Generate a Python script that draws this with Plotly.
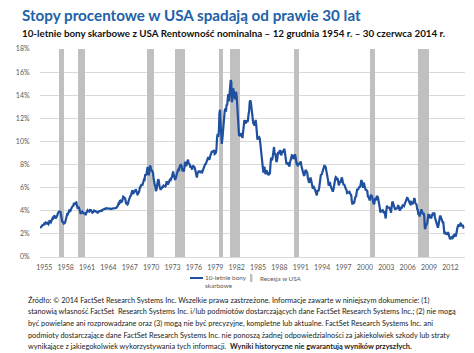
import plotly.graph_objects as go

# ---------------- data ----------------
# Monthly 10-year US Treasury yield (%), starting December 1954
yields_1950s = [2.51,
    2.61, 2.65, 2.68, 2.75, 2.76, 2.78, 2.90, 2.97, 2.97, 2.88, 2.89, 2.96,
    2.90, 2.84, 2.96, 3.18, 3.07, 3.00, 3.11, 3.33, 3.38, 3.34, 3.49, 3.59,
    3.46, 3.34, 3.41, 3.48, 3.60, 3.80, 3.93, 3.93, 3.92, 3.97, 3.72, 3.21,
    3.09, 3.05, 2.98, 2.88, 2.92, 2.97, 3.20, 3.54, 3.76, 3.80, 3.74, 3.86,
    4.02, 3.96, 3.99, 4.12, 4.31, 4.34, 4.40, 4.43, 4.68, 4.53, 4.53, 4.69]
yields_1960s = [
    4.72, 4.49, 4.25, 4.28, 4.35, 4.15, 3.90, 3.80, 3.80, 3.89, 3.93, 3.84,
    3.84, 3.78, 3.74, 3.78, 3.71, 3.88, 3.92, 4.04, 3.98, 3.92, 3.94, 4.06,
    4.08, 4.04, 3.93, 3.84, 3.87, 3.91, 4.01, 3.98, 3.98, 3.93, 3.92, 3.86,
    3.83, 3.92, 3.93, 3.97, 3.93, 3.99, 4.02, 4.00, 4.08, 4.11, 4.12, 4.13,
    4.17, 4.15, 4.22, 4.23, 4.20, 4.17, 4.19, 4.19, 4.20, 4.19, 4.15, 4.18,
    4.19, 4.21, 4.21, 4.20, 4.21, 4.21, 4.20, 4.25, 4.29, 4.35, 4.45, 4.62,
    4.61, 4.83, 4.87, 4.75, 4.78, 4.81, 5.02, 5.22, 5.18, 5.01, 5.16, 4.84,
    4.58, 4.63, 4.54, 4.59, 4.85, 5.02, 5.16, 5.28, 5.30, 5.48, 5.75, 5.70,
    5.53, 5.56, 5.74, 5.64, 5.87, 5.72, 5.50, 5.42, 5.46, 5.58, 5.70, 6.03,
    6.04, 6.19, 6.30, 6.17, 6.32, 6.57, 6.72, 6.69, 7.16, 7.10, 7.14, 7.65]
yields_1970s = [
    7.79, 7.24, 7.07, 7.39, 7.91, 7.84, 7.46, 7.53, 7.39, 7.33, 6.84, 6.39,
    6.24, 6.11, 5.70, 5.83, 6.39, 6.52, 6.73, 6.58, 6.14, 5.93, 5.81, 5.93,
    5.95, 6.08, 6.07, 6.19, 6.13, 6.11, 6.11, 6.21, 6.55, 6.48, 6.28, 6.36,
    6.46, 6.64, 6.71, 6.67, 6.85, 6.90, 7.13, 7.40, 7.09, 6.79, 6.73, 6.74,
    6.99, 6.96, 7.21, 7.51, 7.58, 7.54, 7.81, 8.04, 8.04, 7.90, 7.68, 7.43,
    7.50, 7.39, 7.73, 8.23, 8.06, 7.86, 8.06, 8.40, 8.43, 8.14, 8.05, 8.00,
    7.74, 7.79, 7.73, 7.56, 7.90, 7.86, 7.83, 7.77, 7.59, 7.41, 7.29, 6.87,
    7.21, 7.39, 7.46, 7.37, 7.46, 7.28, 7.33, 7.40, 7.34, 7.52, 7.58, 7.69,
    7.96, 8.03, 8.04, 8.15, 8.35, 8.46, 8.64, 8.41, 8.42, 8.64, 8.81, 9.01,
    9.10, 9.10, 9.12, 9.18, 9.25, 8.91, 8.95, 9.03, 9.33, 10.30, 10.65, 10.39]
yields_1980s = [
    10.80, 12.41, 12.75, 11.47, 10.18, 9.78, 10.25, 11.10, 11.51, 11.75, 12.68, 12.84,
    12.57, 13.19, 13.12, 13.68, 14.10, 13.47, 14.28, 14.94, 15.32, 15.15, 13.39, 13.72,
    14.59, 14.43, 13.86, 13.87, 13.62, 14.30, 13.95, 13.06, 12.34, 10.91, 10.55, 10.54,
    10.46, 10.72, 10.51, 10.40, 10.38, 10.85, 11.38, 11.85, 11.65, 11.54, 11.69, 11.83,
    11.67, 11.84, 12.32, 12.63, 13.41, 13.56, 13.36, 12.72, 12.52, 12.16, 11.57, 11.50,
    11.38, 11.51, 11.86, 11.43, 10.85, 10.16, 10.31, 10.33, 10.37, 10.24, 9.78, 9.26,
    9.19, 8.70, 7.78, 7.30, 7.71, 7.80, 7.30, 7.17, 7.45, 7.43, 7.25, 7.11,
    7.08, 7.25, 7.25, 8.02, 8.61, 8.40, 8.45, 8.76, 9.42, 9.52, 8.86, 8.99,
    8.67, 8.21, 8.37, 8.72, 9.09, 8.92, 9.06, 9.26, 8.98, 8.80, 8.96, 9.11,
    9.09, 9.17, 9.36, 9.18, 8.86, 8.28, 8.02, 8.11, 8.19, 8.01, 7.87, 7.84]
yields_1990s = [
    8.21, 8.47, 8.59, 8.79, 8.76, 8.48, 8.47, 8.75, 8.89, 8.72, 8.39, 8.08,
    8.09, 7.85, 8.11, 8.04, 8.07, 8.28, 8.27, 7.90, 7.65, 7.53, 7.42, 7.09,
    7.03, 7.34, 7.54, 7.48, 7.39, 7.26, 6.84, 6.59, 6.42, 6.59, 6.87, 6.77,
    6.60, 6.26, 5.98, 5.97, 6.04, 5.96, 5.81, 5.68, 5.36, 5.33, 5.72, 5.77,
    5.75, 5.97, 6.48, 6.97, 7.18, 7.10, 7.30, 7.24, 7.46, 7.74, 7.96, 7.81,
    7.78, 7.47, 7.20, 7.06, 6.63, 6.17, 6.28, 6.49, 6.20, 6.04, 5.93, 5.71,
    5.65, 5.81, 6.27, 6.51, 6.74, 6.91, 6.87, 6.64, 6.83, 6.53, 6.20, 6.30,
    6.58, 6.42, 6.69, 6.89, 6.71, 6.49, 6.22, 6.30, 6.21, 6.03, 5.88, 5.81,
    5.54, 5.57, 5.65, 5.64, 5.65, 5.50, 5.46, 5.34, 4.81, 4.53, 4.83, 4.65,
    4.72, 5.00, 5.23, 5.18, 5.54, 5.90, 5.79, 5.94, 5.92, 6.11, 6.03, 6.28]
yields_2000s = [
    6.66, 6.52, 6.26, 5.99, 6.44, 6.10, 6.05, 5.83, 5.80, 5.74, 5.72, 5.24,
    5.16, 5.10, 4.89, 5.14, 5.39, 5.28, 5.24, 4.97, 4.73, 4.57, 4.65, 5.09,
    5.04, 4.91, 5.28, 5.21, 5.16, 4.93, 4.65, 4.26, 3.87, 3.94, 4.05, 4.03,
    4.05, 3.90, 3.81, 3.96, 3.57, 3.33, 3.98, 4.45, 4.27, 4.29, 4.30, 4.27,
    4.15, 4.08, 3.83, 4.35, 4.72, 4.73, 4.50, 4.28, 4.13, 4.10, 4.19, 4.23,
    4.22, 4.17, 4.50, 4.34, 4.14, 4.00, 4.18, 4.26, 4.20, 4.46, 4.54, 4.47,
    4.42, 4.57, 4.72, 4.99, 5.11, 5.11, 5.09, 4.88, 4.72, 4.73, 4.60, 4.56,
    4.76, 4.72, 4.56, 4.69, 4.75, 5.10, 5.00, 4.67, 4.52, 4.53, 4.15, 4.10,
    3.74, 3.74, 3.51, 3.68, 3.88, 4.10, 4.01, 3.89, 3.69, 3.81, 3.53, 2.42,
    2.52, 2.87, 2.82, 2.93, 3.29, 3.72, 3.56, 3.59, 3.40, 3.39, 3.40, 3.59]
yields_2010s = [
    3.73, 3.69, 3.73, 3.85, 3.42, 3.20, 3.01, 2.70, 2.65, 2.54, 2.76, 3.29,
    3.39, 3.58, 3.41, 3.46, 3.17, 3.00, 3.00, 2.30, 1.98, 2.15, 2.01, 1.98,
    1.97, 1.97, 2.17, 2.05, 1.80, 1.62, 1.53, 1.68, 1.72, 1.75, 1.65, 1.72,
    1.91, 1.98, 1.96, 1.76, 1.93, 2.30, 2.58, 2.74, 2.81, 2.62, 2.72, 2.90,
    2.86, 2.71, 2.72, 2.71, 2.56, 2.60]

# US recessions (NBER): start / end (year, month)
rec_start = [(1957, 8), (1960, 4), (1969, 12), (1973, 11), (1980, 1),
             (1981, 7), (1990, 7), (2001, 3), (2007, 12)]
rec_end = [(1958, 4), (1961, 2), (1970, 11), (1975, 3), (1980, 7),
           (1982, 11), (1991, 3), (2001, 11), (2009, 6)]

tick_years = list(range(1955, 2013, 3))
y_ticks = [0, 2, 4, 6, 8, 10, 12, 14, 16, 18]
y_tick_labels = [f"{v}%" for v in y_ticks]

series_name = "10-letnie bony<br>skarbowe"
recession_name = "Recesja w USA"
title = "Stopy procentowe w USA spadają od prawie 30 lat"
subtitle = "10-letnie bony skarbowe z USA Rentowność nominalna – 12 grudnia 1954 r. – 30 czerwca 2014 r."
footer_lines = [
    "Źródło: © 2014 FactSet Research Systems Inc. Wszelkie prawa zastrzeżone. Informacje zawarte w niniejszym dokumencie: (1)",
    "stanowią własność FactSet  Research Systems Inc. i/lub podmiotów dostarczających dane FactSet Research Systems Inc.; (2) nie mogą",
    "być powielane ani rozprowadzane oraz (3) mogą nie być precyzyjne, kompletne lub aktualne. FactSet Research Systems Inc. ani",
    "podmioty dostarczające dane FactSet Research Systems Inc. nie ponoszą żadnej odpowiedzialności za jakiekolwiek szkody lub straty",
    "wynikające z jakiegokolwiek wykorzystywania tych informacji.  <b>Wyniki historyczne nie gwarantują wyników przyszłych.</b>",
]

# ---------------- build ----------------
yields = (yields_1950s + yields_1960s + yields_1970s + yields_1980s
          + yields_1990s + yields_2000s + yields_2010s)
t0 = 1954 + 11 / 12
dates = [t0 + i / 12 for i in range(len(yields))]

r0 = [y + (m - 1) / 12 for y, m in rec_start]
r1 = [y + m / 12 for y, m in rec_end]
rec_center = [(a + b) / 2 for a, b in zip(r0, r1)]
rec_width = [b - a for a, b in zip(r0, r1)]

W, H = 474, 353
L, R, T, B = 40, 9, 49, 96
pw, ph = W - L - R, H - T - B


def px(x):
    return (x - L) / pw


def py(y):
    return (H - B - y) / ph


FONT = "Lato"
GRAY = "#595959"
BLUE = "#1f4f9f"
REC_GRAY = "#c0c0c0"

fig = go.Figure()
fig.add_trace(go.Bar(
    x=rec_center, y=[18] * len(rec_center), width=rec_width,
    marker=dict(color=REC_GRAY, line=dict(width=0)),
    name=recession_name, showlegend=False, hoverinfo="skip",
))
fig.add_trace(go.Scatter(
    x=dates, y=yields, mode="lines",
    line=dict(color=BLUE, width=2.2),
    name=series_name, showlegend=False,
))

annotations = [
    dict(text=f"<b>{title}</b>", x=px(19.5), y=py(15), xanchor="left", yanchor="middle",
         font=dict(family=FONT, size=15.2, color="#2161a8")),
    dict(text=f"<b>{subtitle}</b>", x=px(19.5), y=py(33), xanchor="left", yanchor="middle",
         font=dict(family=FONT, size=9.8, color="#111111")),
    # legend texts
    dict(text=series_name, x=px(204), y=py(273), xanchor="left", yanchor="top",
         align="left", font=dict(family=FONT, size=6.4, color=GRAY)),
    dict(text=recession_name, x=px(259), y=py(278), xanchor="left", yanchor="middle",
         font=dict(family=FONT, size=6.3, color=GRAY)),
]
for i, line in enumerate(footer_lines):
    annotations.append(dict(
        text=line, x=px(26), y=py(300 + i * 11.7), xanchor="left", yanchor="middle",
        font=dict(family=FONT, size=7.35, color="#222222")))
for a in annotations:
    a.update(xref="paper", yref="paper", showarrow=False)
for a in annotations[2:4]:
    a.update(borderpad=0)

shapes = [
    # legend symbols
    dict(type="line", xref="paper", yref="paper", x0=px(190), x1=px(203),
         y0=py(278), y1=py(278), line=dict(color=BLUE, width=2)),
    dict(type="rect", xref="paper", yref="paper", x0=px(250), x1=px(252.5),
         y0=py(282), y1=py(274), fillcolor=REC_GRAY, line=dict(width=0)),
]

fig.update_layout(
    width=W, height=H,
    margin=dict(l=L, r=R, t=T, b=B),
    paper_bgcolor="white", plot_bgcolor="white",
    font=dict(family=FONT, color=GRAY),
    showlegend=False,
    bargap=0,
    annotations=annotations,
    shapes=shapes,
    xaxis=dict(range=[1954.9, 2014.55], tickvals=[y + 0.5 for y in tick_years],
               ticktext=[str(y) for y in tick_years], showgrid=False, zeroline=False,
               showline=True, linecolor="#d9d9d9", linewidth=1,
               ticks="outside", ticklen=4, tickcolor="rgba(0,0,0,0)",
               tickfont=dict(size=7, color=GRAY)),
    yaxis=dict(range=[0, 18], tickvals=y_ticks, ticktext=y_tick_labels,
               showgrid=True, gridcolor="#d9d9d9", gridwidth=1, zeroline=False,
               ticks="outside", ticklen=8, tickcolor="rgba(0,0,0,0)",
               tickfont=dict(size=7, color=GRAY)),
)

fig.write_html("out.html")
